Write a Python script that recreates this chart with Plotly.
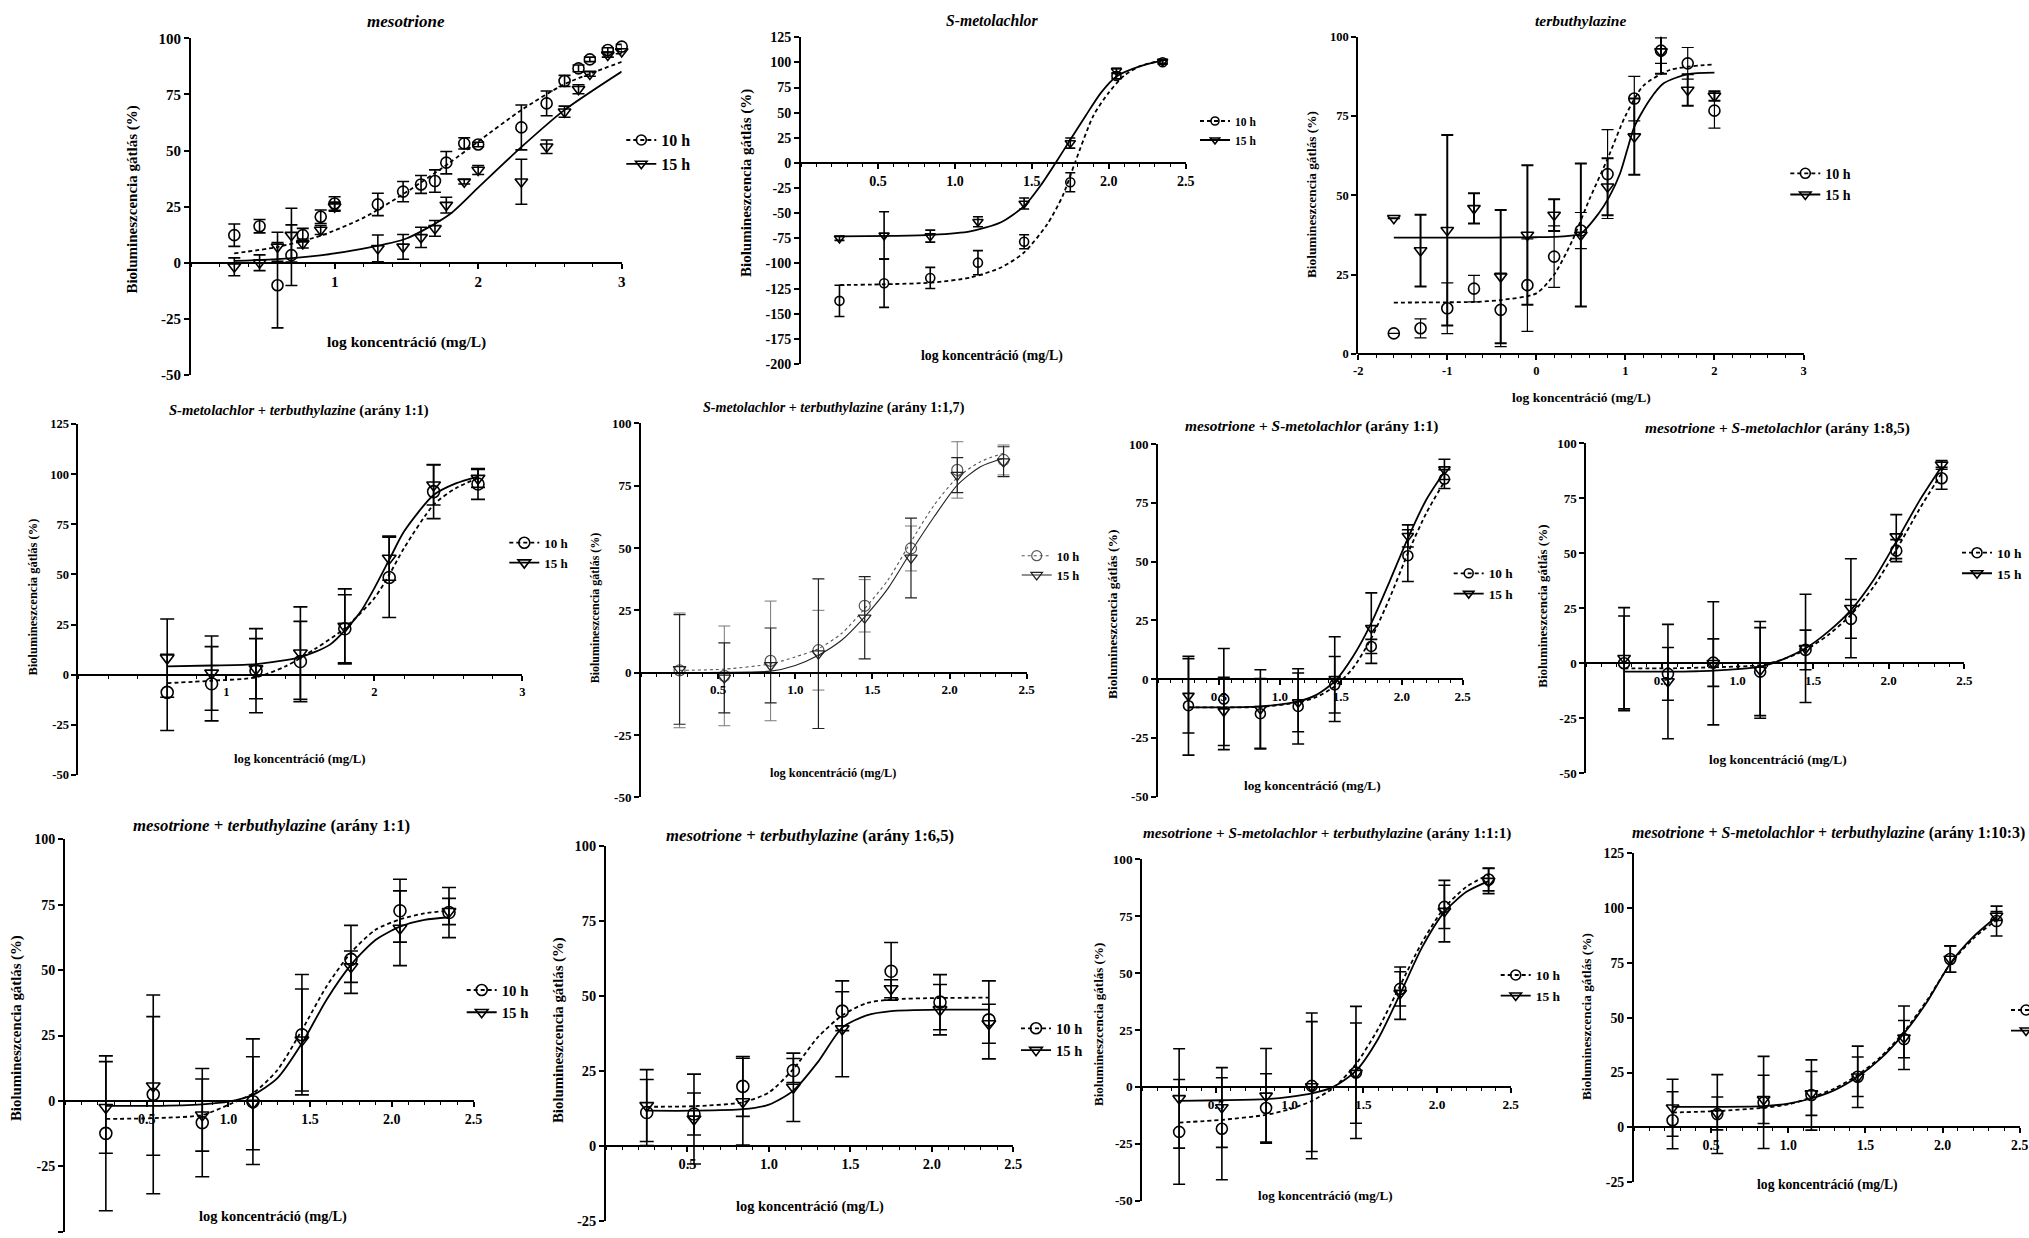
import plotly.graph_objects as go

W, H = 2029, 1238
FONT = "Liberation Serif, Times New Roman, serif"

# ---------------- data ----------------
# log concentration positions
A_x = [0.301, 0.477, 0.602, 0.699, 0.778, 0.903, 1.0, 1.301, 1.477, 1.602, 1.699,
       1.778, 1.903, 2.0, 2.301, 2.477, 2.602, 2.699, 2.778, 2.903, 3.0]
C_x = [-1.6, -1.3, -1.0, -0.7, -0.4, -0.1, 0.2, 0.5, 0.8, 1.1, 1.4, 1.7, 2.0]
D_x = [0.6, 0.9, 1.2, 1.5, 1.8, 2.1, 2.4, 2.7]
X8 = [0.25, 0.54, 0.84, 1.15, 1.45, 1.75, 2.05, 2.35]

# fitted-curve sample positions
A_fx = [0.3, 0.6, 0.9, 1.2, 1.5, 1.8, 2.0, 2.3, 2.6, 3.0]
B_fx10 = [0.25, 0.6, 0.85, 1.1, 1.3, 1.45, 1.6, 1.7, 1.78, 1.9, 2.0, 2.1, 2.2, 2.35]
B_fx15 = [0.25, 0.6, 0.85, 1.1, 1.3, 1.45, 1.55, 1.65, 1.75, 1.85, 1.95, 2.05, 2.2, 2.35]
C_fx10 = [-1.6, -1.0, -0.7, -0.4, 0.0, 0.2, 0.4, 0.6, 0.8, 1.0, 1.2, 1.5, 2.0]
C_fx15 = [-1.6, -0.5, 0.0, 0.3, 0.5, 0.7, 0.82, 0.94, 1.02, 1.1, 1.27, 1.43, 1.7, 2.0]
D_fx15 = [0.6, 0.9, 1.2, 1.5, 1.7, 1.9, 2.0, 2.1, 2.2, 2.4, 2.55, 2.7]
D_fx10 = [0.6, 0.9, 1.2, 1.4, 1.6, 1.8, 2.0, 2.1, 2.2, 2.4, 2.55, 2.7]
FX11 = [0.25, 0.54, 0.84, 1.0, 1.15, 1.3, 1.45, 1.6, 1.75, 2.05, 2.35]
FX12 = [0.25, 0.54, 0.84, 1.15, 1.3, 1.45, 1.6, 1.75, 1.9, 2.05, 2.2, 2.35]
FX13 = [0.25, 0.54, 0.84, 1.0, 1.15, 1.3, 1.45, 1.6, 1.75, 1.9, 2.05, 2.2, 2.35]

# mesotrione
A_10 = [12.3, 16.3, -10.0, 3.4, 12.3, 20.5, 26.4, 26.0, 31.7, 34.9, 36.4, 44.6, 53.2, 52.7,
        60.3, 71.0, 81.0, 86.6, 90.6, 94.8, 96.3]
A_10e = [5, 3, 19, 13.5, 3, 3, 3, 5, 4.5, 4, 5, 5, 2.5, 1, 10, 5.5, 2.5, 1.5, 1, 1, 1]
A_15 = [-1.8, 0, 7.1, 12.3, 8.6, 14.6, 25.0, 6.4, 7.1, 11.3, 15.3, 25.7, 36.1, 41.3,
        36.1, 51.7, 67.3, 77.3, 84.1, 92.6, 94.1]
A_15e = [4, 3.5, 6.5, 12, 2, 2, 2, 6, 5.5, 4.5, 3.5, 3.5, 1, 2, 10, 3, 2.5, 2, 1, 1, 1]
A_fit10 = [4.2, 7, 12, 20, 31.5, 44.5, 54, 68, 79.5, 89.5]
A_fit15 = [0.8, 1.6, 3.3, 6.3, 10.8, 21.5, 33.5, 51.5, 68, 85.2]

# S-metolachlor
B_10 = [-137.2, -119.7, -114.4, -99.2, -78.4, -19.2, 86.6, 100.2]
B_10e = [15.5, 24, 10.5, 12, 7, 9.5, 3, 2]
B_15 = [-75, -72, -72.8, -58.5, -40.3, 19.8, 91.6, 100.9]
B_15e = [2, 23.5, 6, 5, 5.5, 5, 2.5, 2]
B_fit10 = [-121.5, -120.5, -119, -114, -104, -89, -61, -33, 0, 47, 70, 87, 96, 102.5]
B_fit15 = [-73, -72.5, -71.5, -68, -59, -43, -24, -1, 23, 47, 70, 86, 96, 102]

# terbuthylazine
C_10 = [6.5, 8.1, 14.4, 20.6, 13.9, 21.7, 30.7, 38.9, 56.7, 80.5, 95.6, 91.6, 76.7]
C_10e = [0, 3, 8, 4.2, 11.6, 14.6, 9.7, 5.7, 14, 7, 4, 5, 5.5]
C_15 = [42.8, 32.6, 39, 45.9, 24.4, 37.5, 43.8, 37.5, 52.7, 68.5, 95.3, 83.2, 81.3]
C_15e = [0, 11.3, 30, 4.8, 21, 22, 5, 22.5, 9, 12, 7, 5, 1.5]
C_fit10 = [16.2, 16.3, 16.4, 17, 19.1, 25, 35.5, 49, 61.5, 75, 84.5, 89.5, 91.3]
C_fit15 = [36.7, 36.7, 36.8, 37.1, 38, 44.3, 49.6, 56.9, 64.3, 71.6, 80, 85.3, 88.2, 88.7]

# S-metolachlor + terbuthylazine 1:1
D_10 = [-8.8, -4.5, 2.0, 6.6, 22.9, 48.5, 91.3, 95.1]
D_10e = [19, 18.5, 21, 20, 17, 20, 13.5, 7.7]
D_15 = [8.3, 0.8, 3.0, 10.8, 24.1, 58.1, 94.6, 97.9]
D_15e = [19.5, 18.5, 15, 23, 18.7, 11, 10, 4.5]
D_fit15 = [4.2, 4.6, 5.3, 8.8, 15, 30.7, 43.2, 57.3, 71.4, 89.6, 95.4, 98.8]
D_fit10 = [-4.2, -3, -1.3, 4.2, 12.9, 23.2, 38.2, 49.8, 63.1, 84.7, 93, 98]

# S-metolachlor + terbuthylazine 1:1,7
E_10 = [0.9, -1.3, 4.7, 9.0, 26.8, 49.8, 81.3, 85.3]
E_10e = [23, 20, 24, 16, 10.5, 9, 11.3, 6]
E_15 = [1.3, -2.1, 2.9, 7.6, 22, 46, 79.2, 84.6]
E_15e = [22, 14, 15, 30, 16.5, 16, 7, 6]
E_fit10 = [0.9, 1.4, 3.5, 6.3, 9.6, 15.7, 25.7, 37.1, 52.5, 67.2, 78.2, 84.6, 88]
E_fit15 = [0, 0.1, 0.6, 2.9, 7, 13, 22.4, 33.7, 48.5, 62.5, 75.2, 82.6, 86]

# mesotrione + S-metolachlor 1:1
F_10 = [-11.3, -8.5, -14.7, -11.6, -2.4, 13.9, 52.5, 85.1]
F_10e = [21, 21.5, 15, 16, 12, 3, 11, 4]
F_15 = [-7.1, -13.7, -12.7, -9.9, 0, 21.7, 60.9, 89.2]
F_15e = [15.8, 14.5, 16.7, 12.5, 18, 15, 4.7, 4.3]
F_fit15 = [-12, -12, -11.6, -9.5, -6.7, -1, 9.6, 23.8, 41.5, 59.9, 76.2, 88.2]
F_fit10 = [-12, -12, -11.8, -9.9, -7.6, -3.1, 4.7, 17.4, 34.4, 53.5, 70.5, 84]

# mesotrione + S-metolachlor 1:8,5
G_10 = [0, -4.8, 0.3, -3.8, 6.1, 20.2, 51.2, 84.1]
G_10e = [21.5, 12, 10.8, 20, 9, 8.8, 5, 5]
G_15 = [2.3, -8.3, 0, -3, 6.8, 25, 57.6, 90.2]
G_15e = [23, 26, 28, 22, 24.6, 22.5, 10, 2]
G_fit15 = [-3.8, -3.8, -3.3, -1.5, 1.8, 6.8, 14.4, 24.2, 37.9, 55.3, 73.5, 89.4]
G_fit10 = [-2.3, -2.3, -1.8, -0.8, 1.8, 6.1, 12.9, 22, 34.8, 51.5, 69.7, 86.4]

# mesotrione + terbuthylazine 1:1
H_10 = [-12.4, 2.5, -8.3, -0.3, 25.3, 54.1, 72.7, 72]
H_10e = [29.6, 38, 20.7, 24, 23, 13, 12, 9.6]
H_15 = [-2.5, 5.7, -5.4, -0.9, 23.3, 51.3, 66, 72.4]
H_15e = [17.5, 26.5, 13.8, 17.8, 19.5, 6, 14.3, 5]
H_fit10 = [-6.9, -6.6, -5.4, -1.5, 2.9, 11.8, 27.1, 43.7, 56.7, 65.4, 69.4, 71.7, 72.7]
H_fit15 = [-1.9, -1.9, -1.3, -0.3, 2.3, 8.7, 22, 38.6, 52, 61.5, 66.6, 69.2, 70.2]

# mesotrione + terbuthylazine 1:6,5
I_10 = [11.1, 10.6, 19.8, 25.1, 44.9, 58.2, 47.9, 42]
I_10e = [11, 7, 10, 4, 6.5, 9.6, 9.2, 13]
I_15 = [13.4, 8.9, 14.7, 19.5, 39, 52.4, 45.4, 40.7]
I_15e = [12, 15, 14.5, 11.4, 16, 3, 8.4, 6.5]
I_fit10 = [13, 13.2, 14.5, 17.8, 25.6, 36.2, 43.5, 47.6, 48.8, 49.3, 49.4]
I_fit15 = [11.7, 11.7, 12.2, 13.7, 18.4, 27.9, 39.4, 43.5, 44.9, 45.4, 45.4]

# mesotrione + S-metolachlor + terbuthylazine 1:1:1
J_10 = [-19.8, -18.4, -9.3, 0.4, 6.3, 43, 79, 91]
J_10e = [23, 22.4, 15, 32, 29, 7.5, 9.5, 5]
J_15 = [-5.1, -9.1, -4, 0.1, 6, 41.1, 77.1, 90.3]
J_15e = [21.8, 17.5, 20.8, 28.5, 22, 11.5, 13.5, 5.5]
J_fit10 = [-15.7, -14.5, -12.3, -9.8, -6.2, -0.3, 10, 25.4, 44.5, 63.6, 78.6, 87.8, 93.2]
J_fit15 = [-6.2, -5.9, -5.4, -4.4, -2.9, 0.1, 7, 21, 40.8, 61.4, 76.8, 85.6, 90.3]

# mesotrione + S-metolachlor + terbuthylazine 1:10:3
K_10 = [3.3, 6.1, 11.4, 14.8, 23.1, 40.3, 76.8, 94.1]
K_10e = [13, 18, 21, 16, 9, 8.5, 6, 6.8]
K_15 = [9, 6.4, 12.8, 15.5, 23.1, 40.9, 76.8, 96.4]
K_15e = [13, 7.5, 11, 10, 14, 14.5, 6, 2]
K_fit10 = [6.8, 7.5, 9, 10.5, 13.7, 17.8, 23.9, 32.2, 43.6, 58.1, 74.5, 86.2, 94.6]
K_fit15 = [9.4, 9.4, 9.7, 10.9, 13.2, 17, 23.1, 31.5, 42.9, 57.3, 74.8, 87, 96.1]

# tick labels
XT_INT = [1, 2, 3]
XT_INT_TXT = ["1", "2", "3"]
XT_C = [-2, -1, 0, 1, 2, 3]
XT_C_TXT = ["-2", "-1", "0", "1", "2", "3"]
XT_HALF = [0.5, 1.0, 1.5, 2.0, 2.5]
XT_HALF_TXT = ["0.5", "1.0", "1.5", "2.0", "2.5"]

SERIES = ["10 h", "15 h"]
YTITLE = "<b>Biolumineszcencia gátlás (%)</b>"
XTITLE = "<b>log koncentráció (mg/L)</b>"

# ---------------- layout of the panels (pixels) ----------------
panels = [
    dict(title="<b><i>mesotrione</i></b>",
         x=A_x, y10=A_10, e10=A_10e, y15=A_15, e15=A_15e,
         fx10=A_fx, f10=A_fit10, fx15=A_fx, f15=A_fit15,
         xpx=(191.1, 621.7), ypx=(38.3, 375.0), xr=(0, 3), yr=(-50, 100),
         xt=XT_INT, xtt=XT_INT_TXT, minor=0.2, ts=15,
         tpos=(406.4, 21.7, 17), ypos=(132.6, 200, 15), xpos=(406.4, 341.7, 15.5),
         leg=(641.3, 140, 16), ms=11, cw=6),
    dict(title="<b><i>S-metolachlor</i></b>",
         x=X8, y10=B_10, e10=B_10e, y15=B_15, e15=B_15e,
         fx10=B_fx10, f10=B_fit10, fx15=B_fx15, f15=B_fit15,
         xpx=(801.0, 1185.7), ypx=(37.3, 364.0), xr=(0, 2.5), yr=(-200, 125),
         xt=XT_HALF, xtt=XT_HALF_TXT, minor=0.1, ts=14,
         tpos=(992.0, 20.7, 15.7), ypos=(746.7, 183.3, 15), xpos=(992.3, 356.0, 13.8),
         leg=(1215.0, 121, 11.5), ms=9, cw=5),
    dict(title="<b><i>terbuthylazine</i></b>",
         x=C_x, y10=C_10, e10=C_10e, y15=C_15, e15=C_15e,
         fx10=C_fx10, f10=C_fit10, fx15=C_fx15, f15=C_fit15,
         xpx=(1358.2, 1803.5), ypx=(36.7, 354.0), xr=(-2, 3), yr=(0, 100),
         xt=XT_C, xtt=XT_C_TXT, minor=0.2, ts=12.5,
         tpos=(1580.6, 20.7, 15.5), ypos=(1311.0, 195.0, 13.3), xpos=(1581.7, 397.3, 13.5),
         leg=(1805.3, 173.3, 14), ms=11, cw=6, thin10=True),
    dict(title="<b><i>S-metolachlor</i> + <i>terbuthylazine</i> (arány 1:1)</b>",
         x=D_x, y10=D_10, e10=D_10e, y15=D_15, e15=D_15e,
         fx10=D_fx10, f10=D_fit10, fx15=D_fx15, f15=D_fit15,
         xpx=(78.4, 522.4), ypx=(424.0, 775.0), xr=(0, 3), yr=(-50, 125),
         xt=XT_INT, xtt=XT_INT_TXT, minor=0.2, ts=12.5,
         tpos=(298.5, 410.0, 14.6), ypos=(32.8, 596.7, 12.5), xpos=(300.4, 759.3, 12.8),
         leg=(524.3, 542.7, 13), ms=12, cw=7),
    dict(title="<b><i>S-metolachlor</i> + <i>terbuthylazine</i> (arány 1:1,7)</b>",
         x=X8, y10=E_10, e10=E_10e, y15=E_15, e15=E_15e,
         fx10=FX13, f10=E_fit10, fx15=FX13, f15=E_fit15,
         xpx=(641.0, 1026.7), ypx=(423.3, 797.3), xr=(0, 2.5), yr=(-50, 100),
         xt=XT_HALF, xtt=XT_HALF_TXT, minor=0.1, ts=13,
         tpos=(834.0, 407.7, 14.1), ypos=(595.0, 608.3, 12), xpos=(833.3, 773.3, 12.3),
         leg=(1036.7, 555.7, 12.5), ms=11, cw=6, light=True),
    dict(title="<b><i>mesotrione</i> + <i>S-metolachlor</i> (arány 1:1)</b>",
         x=X8, y10=F_10, e10=F_10e, y15=F_15, e15=F_15e,
         fx10=FX12, f10=F_fit10, fx15=FX12, f15=F_fit15,
         xpx=(1158.0, 1462.7), ypx=(444.0, 796.7), xr=(0, 2.5), yr=(-50, 100),
         xt=XT_HALF, xtt=XT_HALF_TXT, minor=0.1, ts=13,
         tpos=(1311.0, 426.0, 15.4), ypos=(1112.0, 615.0, 13.5), xpos=(1312.0, 785.0, 13.3),
         leg=(1468.7, 573.3, 13.3), ms=10, cw=6),
    dict(title="<b><i>mesotrione</i> + <i>S-metolachlor</i> (arány 1:8,5)</b>",
         x=X8, y10=G_10, e10=G_10e, y15=G_15, e15=G_15e,
         fx10=FX12, f10=G_fit10, fx15=FX12, f15=G_fit15,
         xpx=(1586.3, 1964.3), ypx=(443.3, 773.3), xr=(0, 2.5), yr=(-50, 100),
         xt=XT_HALF, xtt=XT_HALF_TXT, minor=0.1, ts=13,
         tpos=(1777.7, 428.3, 15.4), ypos=(1543.0, 606.7, 13), xpos=(1777.7, 760.0, 13.4),
         leg=(1977.0, 552.7, 13.5), ms=11, cw=6),
    dict(title="<b><i>mesotrione</i> + <i>terbuthylazine</i> (arány 1:1)</b>",
         x=X8, y10=H_10, e10=H_10e, y15=H_15, e15=H_15e,
         fx10=FX13, f10=H_fit10, fx15=FX13, f15=H_fit15,
         xpx=(65.0, 473.5), ypx=(839.3, 1231.7), xr=(0, 2.5), yr=(-50, 100),
         xt=XT_HALF, xtt=XT_HALF_TXT, minor=0.1, ts=14,
         tpos=(271.4, 825.0, 16.8), ypos=(16.0, 1028.0, 14.8), xpos=(273.3, 1216.7, 14.4),
         leg=(481.7, 990.0, 14.8), ms=12, cw=7),
    dict(title="<b><i>mesotrione</i> + <i>terbuthylazine</i> (arány 1:6,5)</b>",
         x=X8, y10=I_10, e10=I_10e, y15=I_15, e15=I_15e,
         fx10=FX11, f10=I_fit10, fx15=FX11, f15=I_fit15,
         xpx=(606.0, 1013.3), ypx=(846.0, 1220.7), xr=(0, 2.5), yr=(-25, 100),
         xt=XT_HALF, xtt=XT_HALF_TXT, minor=0.1, ts=14.4,
         tpos=(810.0, 835.0, 16.7), ypos=(558.0, 1030.0, 14.8), xpos=(810.0, 1206.7, 14.4),
         leg=(1036.0, 1028.3, 14.5), ms=12, cw=7),
    dict(title="<b><i>mesotrione</i> + <i>S-metolachlor</i> + <i>terbuthylazine</i> (arány 1:1:1)</b>",
         x=X8, y10=J_10, e10=J_10e, y15=J_15, e15=J_15e,
         fx10=FX13, f10=J_fit10, fx15=FX13, f15=J_fit15,
         xpx=(1142.3, 1510.7), ypx=(859.0, 1200.7), xr=(0, 2.5), yr=(-50, 100),
         xt=XT_HALF, xtt=XT_HALF_TXT, minor=0.1, ts=13.3,
         tpos=(1326.7, 833.3, 15.2), ypos=(1098.0, 1025.0, 13), xpos=(1325.7, 1195.0, 13.1),
         leg=(1515.7, 975.0, 13.5), ms=11, cw=6),
    dict(title="<b><i>mesotrione</i> + <i>S-metolachlor</i> + <i>terbuthylazine</i> (arány 1:10:3)</b>",
         x=X8, y10=K_10, e10=K_10e, y15=K_15, e15=K_15e,
         fx10=FX13, f10=K_fit10, fx15=FX13, f15=K_fit15,
         xpx=(1634.0, 2019.7), ypx=(853.3, 1182.3), xr=(0, 2.5), yr=(-25, 125),
         xt=XT_HALF, xtt=XT_HALF_TXT, minor=0.1, ts=13.8,
         tpos=(1828.0, 833.3, 15.9), ypos=(1586.3, 1016.7, 13.3), xpos=(1827.3, 1185.0, 13.7),
         leg=(2026.0, 1010.0, 13.5), ms=11, cw=6),
]

fig = go.Figure()
layout = dict(width=W, height=H, margin=dict(l=0, r=0, t=0, b=0, autoexpand=False),
              paper_bgcolor="white", plot_bgcolor="white", showlegend=True,
              font=dict(family=FONT, color="black"))
annotations = []

DASH = "4px,3px"

for i, p in enumerate(panels, start=1):
    suf = "" if i == 1 else str(i)
    xa, ya, lg = "x" + suf, "y" + suf, "legend" + suf
    light = p.get("light", False)
    thin10 = p.get("thin10", False)

    c10 = "#555555" if light else "black"
    c15 = "#222222" if light else "black"
    lw = 1.1 if light else 1.8
    dash10 = "dot" if light else DASH
    et10 = 1.0 if light else (1.2 if thin10 else 1.6)
    et15 = 1.2 if light else (2.0 if thin10 else 1.6)
    ec10 = "#777777" if light else "black"
    mlw = 1.2 if light else 1.6

    # fitted curves
    fig.add_trace(go.Scatter(x=p["fx10"], y=p["f10"], mode="lines", xaxis=xa, yaxis=ya,
                             line=dict(color=c10, width=lw, dash=dash10, shape="spline", smoothing=0.7),
                             showlegend=False, hoverinfo="skip"))
    fig.add_trace(go.Scatter(x=p["fx15"], y=p["f15"], mode="lines", xaxis=xa, yaxis=ya,
                             line=dict(color=c15, width=lw, shape="spline", smoothing=0.7),
                             showlegend=False, hoverinfo="skip"))
    # data points with error bars
    fig.add_trace(go.Scatter(x=p["x"], y=p["y10"], mode="markers", xaxis=xa, yaxis=ya,
                             marker=dict(symbol="circle-open", size=p["ms"], color=c10,
                                         line=dict(width=mlw, color=c10)),
                             error_y=dict(type="data", array=p["e10"], visible=True,
                                          color=ec10, thickness=et10, width=p["cw"]),
                             cliponaxis=False, showlegend=False, name=SERIES[0]))
    fig.add_trace(go.Scatter(x=p["x"], y=p["y15"], mode="markers", xaxis=xa, yaxis=ya,
                             marker=dict(symbol="triangle-down-open", size=p["ms"], color=c15,
                                         line=dict(width=mlw, color=c15)),
                             error_y=dict(type="data", array=p["e15"], visible=True,
                                          color=c15, thickness=et15, width=p["cw"]),
                             cliponaxis=False, showlegend=False, name=SERIES[1]))
    # legend entries
    fig.add_trace(go.Scatter(x=[None], y=[None], mode="lines+markers", xaxis=xa, yaxis=ya,
                             name=SERIES[0], legend=lg,
                             line=dict(color=c10, width=lw, dash=dash10),
                             marker=dict(symbol="circle-open", size=p["ms"] - 1, color=c10,
                                         line=dict(width=mlw, color=c10))))
    fig.add_trace(go.Scatter(x=[None], y=[None], mode="lines+markers", xaxis=xa, yaxis=ya,
                             name=SERIES[1], legend=lg,
                             line=dict(color=c15, width=lw),
                             marker=dict(symbol="triangle-down-open", size=p["ms"] - 1, color=c15,
                                         line=dict(width=mlw, color=c15))))

    xl, xr_ = p["xpx"]
    yt, yb = p["ypx"]
    y0f, y1f = 1 - yb / H, 1 - yt / H
    ymin, ymax = p["yr"]
    pos = y0f + (0 - ymin) / (ymax - ymin) * (y1f - y0f)
    tfont = dict(family=FONT, size=p["ts"], color="black", weight="bold")

    layout["xaxis" + suf] = dict(
        domain=[xl / W, xr_ / W], range=list(p["xr"]), anchor="free", position=pos,
        showline=True, linecolor="black", linewidth=2, ticks="outside", ticklen=5,
        tickwidth=1.6, tickcolor="black", tickmode="array", tickvals=p["xt"],
        ticktext=p["xtt"], tickfont=tfont, showgrid=False, zeroline=False,
        minor=dict(tickmode="linear", tick0=p["xr"][0], dtick=p["minor"], ticks="outside",
                   ticklen=3, tickwidth=1.2, tickcolor="black", showgrid=False),
        fixedrange=True)
    yvals = list(range(ymin, ymax + 1, 25))
    layout["yaxis" + suf] = dict(
        domain=[y0f, y1f], range=[ymin, ymax], anchor=xa,
        showline=True, linecolor="black", linewidth=2, ticks="outside", ticklen=5,
        tickwidth=1.6, tickcolor="black", tickmode="array", tickvals=yvals,
        ticktext=[str(v) for v in yvals], tickfont=tfont, showgrid=False, zeroline=False,
        fixedrange=True)

    mx, ly1, lfs = p["leg"]
    item_h = max(1.3 * lfs, 16) + 3
    ltop = ly1 - 5 - item_h / 2
    layout[lg] = dict(x=(mx - 20) / W, y=1 - ltop / H, xanchor="left", yanchor="top",
                      font=dict(family=FONT, size=lfs, color="black", weight="bold"),
                      bgcolor="rgba(0,0,0,0)", borderwidth=0, itemwidth=30,
                      tracegroupgap=0, traceorder="normal")

    tx, ty, tsz = p["tpos"]
    annotations.append(dict(text=p["title"], x=tx / W, y=1 - ty / H, xref="paper", yref="paper",
                            xanchor="center", yanchor="middle", showarrow=False,
                            font=dict(family=FONT, size=tsz, color="black")))
    qx, qy, qsz = p["ypos"]
    annotations.append(dict(text=YTITLE, x=qx / W, y=1 - qy / H, xref="paper", yref="paper",
                            xanchor="center", yanchor="middle", showarrow=False, textangle=-90,
                            font=dict(family=FONT, size=qsz, color="black")))
    rx, ry, rsz = p["xpos"]
    annotations.append(dict(text=XTITLE, x=rx / W, y=1 - ry / H, xref="paper", yref="paper",
                            xanchor="center", yanchor="middle", showarrow=False,
                            font=dict(family=FONT, size=rsz, color="black")))

layout["annotations"] = annotations
fig.update_layout(**layout)
fig.write_html("out.html")
